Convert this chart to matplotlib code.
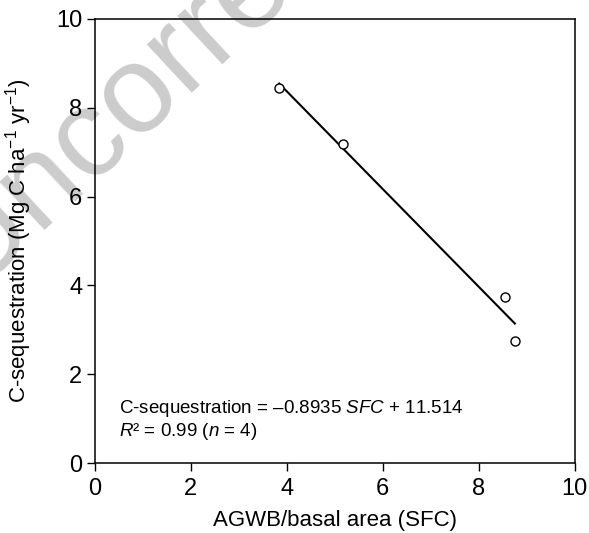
#!/usr/bin/env python3
"""C-sequestration vs AGWB/basal area (SFC), with linear fit."""
import numpy as np
import matplotlib
matplotlib.use("Agg")
import matplotlib.pyplot as plt

# data
sfc = [3.84, 5.18, 8.54, 8.75]
cseq = [8.45, 7.18, 3.75, 2.75]
xticks = [0, 2, 4, 6, 8, 10]
yticks = [0, 2, 4, 6, 8, 10]

plt.rcParams["font.family"] = ["Liberation Sans", "DejaVu Sans"]
plt.rcParams["mathtext.fontset"] = "custom"
plt.rcParams["mathtext.rm"] = "Liberation Sans"
plt.rcParams["mathtext.it"] = "Liberation Sans:italic"

fig = plt.figure(figsize=(5.89, 5.33), dpi=100)
ax = fig.add_axes([0.161, 0.1313, 0.815, 0.8331])

# watermark, behind the axes
fig.text(-0.050, 0.456, "Uncorrected", fontsize=90, color="#cccccc",
         rotation=43, rotation_mode="anchor", ha="left", va="baseline", zorder=-1)
ax.patch.set_alpha(0)

# fit line over the data range
k, b = np.polyfit(sfc, cseq, 1)
xs = np.array([min(sfc), max(sfc)])
ax.plot(xs, k * xs + b, color="black", lw=1.5, zorder=2)
ax.plot(sfc, cseq, "o", ms=6.5, mfc="white", mec="black", mew=1.0, zorder=3)

ax.set_xlim(0, 10)
ax.set_ylim(0, 10)
ax.set_xticks(xticks)
ax.set_yticks(yticks)
ax.tick_params(direction="out", length=6, width=1, labelsize=17,
               top=False, right=False)
ax.tick_params(axis="x", pad=5)
ax.tick_params(axis="y", pad=3)
for s in ax.spines.values():
    s.set_linewidth(1.1)

ax.set_xlabel("AGWB/basal area (SFC)", fontsize=16, labelpad=7)
ax.set_ylabel("C-sequestration (Mg C ha$^{-1}$ yr$^{-1}$)", fontsize=16, labelpad=16)

ax.text(0.5, 1.22, "C-sequestration = \u20130.8935 $\\it{SFC}$ + 11.514",
        fontsize=13.5, va="center", ha="left")
ax.text(0.5, 0.70, "$\\it{R}$\u00b2 = 0.99 ($\\it{n}$ = 4)",
        fontsize=13.5, va="center", ha="left")

fig.savefig("out.png", dpi=100)
